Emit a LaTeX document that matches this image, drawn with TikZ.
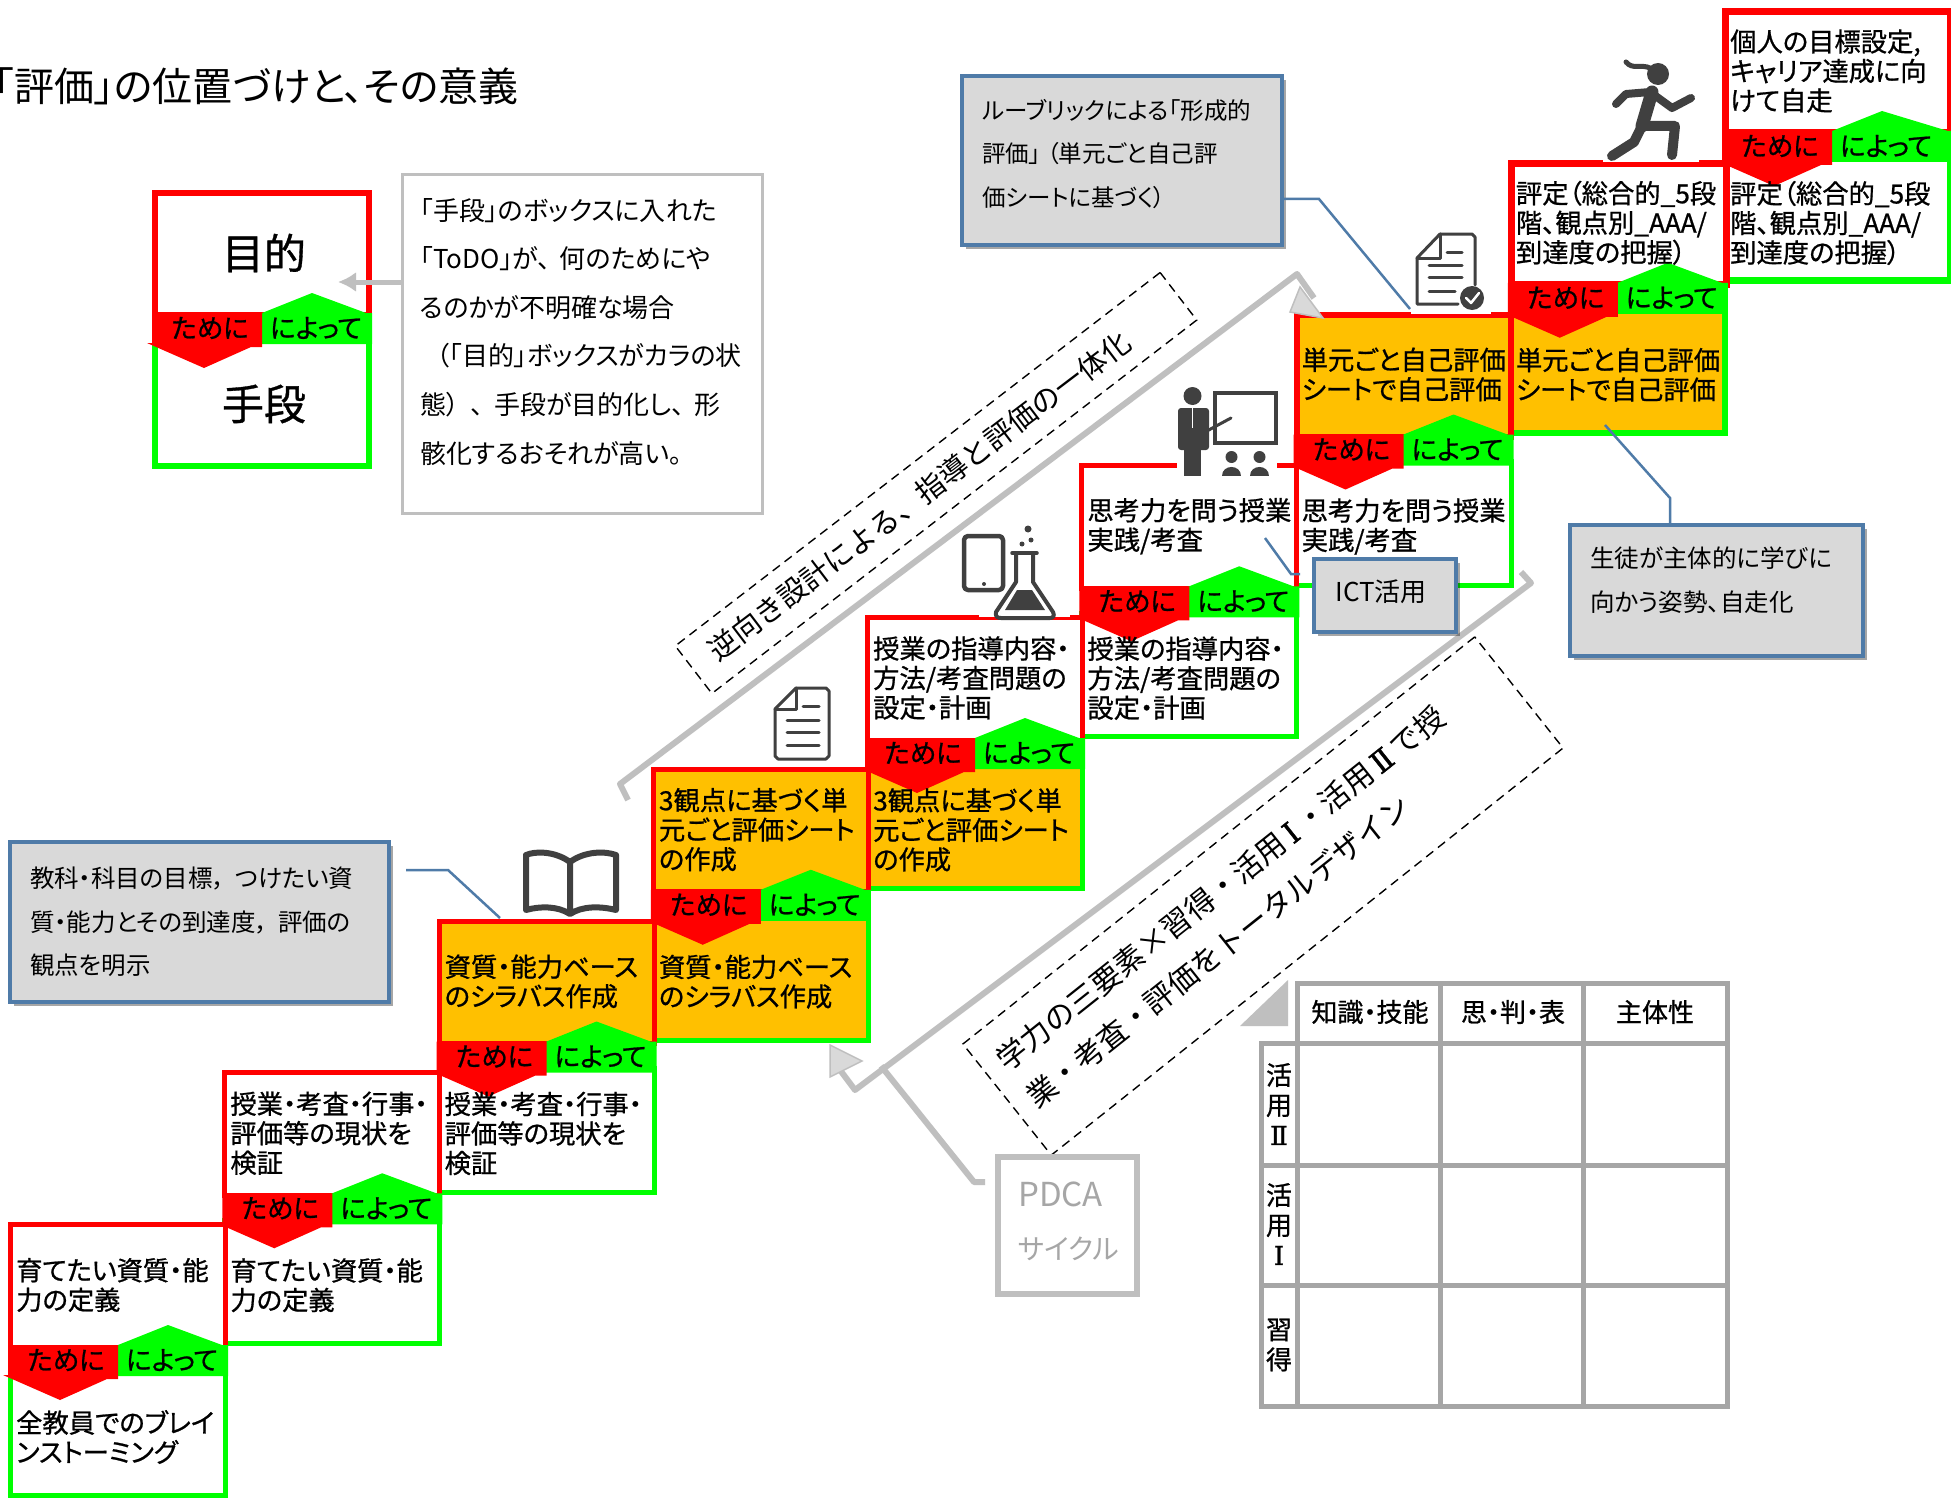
\documentclass[tikz,border=0pt]{standalone}
\usepackage{fontspec}
\usetikzlibrary{shadows,arrows.meta}
\newfontfamily\jp[RawFeature=+palt]{Noto Sans CJK JP}
\newfontfamily\jpn{Noto Sans CJK JP}
\newfontfamily\jpm[RawFeature=+palt,FakeBold=0.8]{Noto Sans CJK JP}
\newfontfamily\romf[FakeBold=1.2]{DejaVu Serif}
\definecolor{cRed}{HTML}{FF0000}
\definecolor{cGreen}{HTML}{00FF00}
\definecolor{cOrange}{HTML}{FFC000}
\definecolor{cBlue}{HTML}{4F7BA8}
\definecolor{cGray}{HTML}{BFBFBF}
\definecolor{cTbl}{HTML}{A6A6A6}
\definecolor{cIcon}{HTML}{404040}
\definecolor{cGrayFill}{HTML}{D9D9D9}
\tikzset{
  x=1pt,y=-1pt,
  celltext/.style={anchor=west,align=left,inner sep=0pt,font=\jpm\fontsize{26.3}{29.5}\selectfont},
  bandtext/.style={inner sep=0pt,font=\jpm\fontsize{26.5}{26}\selectfont},
  bluebox/.style={draw=cBlue,fill=cGrayFill,line width=4pt,inner sep=0pt,align=left,
    drop shadow={shadow xshift=4pt,shadow yshift=-4pt,opacity=.35,fill=black},
    font=\jp\fontsize{24.5}{43.5}\selectfont},
  leader/.style={draw=cBlue,line width=2.5pt},
  grayline/.style={draw=cGray,line width=6pt},
  dashbox/.style={draw=black,dashed,line width=1.4pt,dash pattern=on 9pt off 6pt,inner sep=0pt},
  rottext/.style={align=left,inner sep=0pt},
  iconline/.style={draw=cIcon,line width=3.5pt,line join=round,line cap=round},
  tlabel/.style={inner sep=0pt,font=\jpm\fontsize{26}{30}\selectfont,align=center},
}
\begin{document}
\begin{tikzpicture}
\useasboundingbox (0,0) rectangle (1951,1498);
\fill[white] (0,0) rectangle (1951,1498);

% title
\node[anchor=west,inner sep=0pt,font=\jp\fontsize{40}{40}\selectfont] (title) at (-6,86) {「評価」の位置づけと、その意義};

% dashed rotated labels (under other items)
\node[dashbox,rotate=37.6,minimum width=612pt,minimum height=60pt] (dashA) at (936,483) {};
\node[rottext,rotate=37.2,font=\jpn\fontsize{29}{48}\selectfont] (dashAt) at (919,496) {逆向き設計による、指導と評価の一体化};
\node[dashbox,rotate=38.5,minimum width=654pt,minimum height=142pt] (dashB) at (1263,896) {};
\node[rottext,rotate=38.5,font=\jpn\fontsize{30}{48}\selectfont,text width=610pt] (dashBt) at (1254,892) {学力の三要素×習得・活用\hspace{5pt}{\romf Ⅰ}\hspace{5pt}・活用\hspace{5pt}{\romf Ⅱ}\hspace{5pt}で授\\業・考査・評価をトータルデザイン};

% big gray bent arrows
\coordinate (upA) at (628,800);
\coordinate (upB) at (620,784);
\coordinate (upC) at (1297,274);
\coordinate (upD) at (1314,298);
\draw[grayline,line join=round] (upA) -- (upB) -- (upC) -- (upD);
\coordinate (loA) at (1521,572);
\coordinate (loB) at (1531,583);
\coordinate (loC) at (855,1090);
\coordinate (loD) at (840,1070);
\draw[grayline,line join=round] (loA) -- (loB) -- (loC) -- (loD);

% step cells: green frames
\foreach \k/\fa/\w/\cw in {0/white/5/220,1/white/5/220,2/white/5/220,3/cOrange/5/220,4/cOrange/5/220,5/white/5/220,6/white/5/220,7/cOrange/6/220,8/white/7/232}{
  \pgfmathsetmacro\L{8+214.25*\k}\pgfmathsetmacro\T{1222-151.75*\k}
  \begin{scope}[shift={(\L,\T)}]
    \draw[draw=cGreen,line width=\w pt,fill=\fa] ({\w/2},150) rectangle ({\cw-\w/2},{276-\w/2});
  \end{scope}
}
% step cells: red frames
\foreach \k/\fa/\w/\cw in {0/white/5/220,1/white/5/220,2/cOrange/5/220,3/cOrange/5/220,4/white/5/220,5/white/5/220,6/cOrange/6/220,7/white/7/222,8/white/7/232}{
  \pgfmathsetmacro\L{8+214.25*\k}\pgfmathsetmacro\T{1222-151.75*\k}
  \begin{scope}[shift={(\L,\T)}]
    \draw[draw=cRed,line width=\w pt,fill=\fa] ({\w/2},{\w/2}) rectangle ({\cw-\w/2},125);
  \end{scope}
}
% purpose / means legend frames
\begin{scope}[shift={(152,190)}]
  \draw[draw=cGreen,line width=6pt,fill=white] (3,150) rectangle (217,276);
  \draw[draw=cRed,line width=6pt,fill=white] (3,3) rectangle (217,125);
\end{scope}
% bands
\foreach \L/\T/\n/\cw in {8/1222/0/220,222.25/1070.25/1/220,436.5/918.5/2/220,650.75/766.75/3/220,865/615/4/220,1079.25/463.25/5/220,1293.5/311.5/6/220,1507.75/159.75/7/220,1722/8/8/232,152/190/L/220}{
  \begin{scope}[shift={(\L,\T)}]
    \fill[cGreen] (105,125) -- (160,103) -- ({\cw-6},123) -- (\cw,123) -- (\cw,154) -- (105,154) -- cycle;
    \fill[cRed] (0,123) -- (110,123) -- (110,157) -- (99,157) -- (52,178) -- (-5,153) -- (0,153) -- cycle;
    \node[bandtext] (tame\n) at (58,138) {ために};
    \node[bandtext] (yotte\n) at (164,138) {によって};
  \end{scope}
}
% grey arrowheads lie over the frames
\draw[fill=cGrayFill,draw=cGray,line width=1.5pt] (1300,287) -- (1323,318) -- (1290,312) -- cycle;
\draw[fill=cGrayFill,draw=cGray,line width=1.5pt] (830,1045) -- (862,1061) -- (830,1077) -- cycle;
% step texts
\foreach \k/\ta/\tb in {
 0/{育てたい資質・能\\力の定義}/{全教員でのブレイ\\ンストーミング},
 1/{授業・考査・行事・\\評価等の現状を\\検証}/{育てたい資質・能\\力の定義},
 2/{資質・能力ベース\\のシラバス作成}/{授業・考査・行事・\\評価等の現状を\\検証},
 3/{3観点に基づく単\\元ごと評価シート\\の作成}/{資質・能力ベース\\のシラバス作成},
 4/{授業の指導内容・\\方法/考査問題の\\設定・計画}/{3観点に基づく単\\元ごと評価シート\\の作成},
 5/{思考力を問う授業\\実践/考査}/{授業の指導内容・\\方法/考査問題の\\設定・計画},
 6/{単元ごと自己評価\\シートで自己評価}/{思考力を問う授業\\実践/考査},
 7/{評定（総合的\_5段\\階、観点別\_AAA/\\到達度の把握）}/{単元ごと自己評価\\シートで自己評価},
 8/{個人の目標設定,\\キャリア達成に向\\けて自走}/{評定（総合的\_5段\\階、観点別\_AAA/\\到達度の把握）}}{
  \pgfmathsetmacro\L{8+214.25*\k}\pgfmathsetmacro\T{1222-151.75*\k}
  \node[celltext] (top\k) at ({\L+8},{\T+63}) {\ta};
  \node[celltext] (bot\k) at ({\L+8},{\T+215}) {\tb};
}
% legend text
\node[inner sep=0pt,font=\jpm\fontsize{42}{42}\selectfont] (mokuteki) at (264,253) {目的};
\node[inner sep=0pt,font=\jpm\fontsize{42}{42}\selectfont] (shudan) at (264,404) {手段};

% note box
\node[draw=cGray,line width=3pt,fill=white,minimum width=360pt,minimum height=338pt,inner sep=0pt] (note) at (582,344) {};
\node[anchor=north west,inner sep=0pt,align=left,font=\jp\fontsize{26}{48.6}\selectfont] (notetext) at (420,198) {「手段」のボックスに入れた\\「ToDO」が、\hspace{9pt}何のためにや\\るのかが不明確な場合\\\hspace*{16pt}（「目的」ボックスがカラの状\\態）\hspace{12pt}、\hspace{10pt}手段が目的化し、\hspace{10pt}形\\骸化するおそれが高い。};
\coordinate (noteArrow) at (338,282);
\draw[grayline,line width=5pt,-{Latex[length=18pt,width=20pt]}] (note.west|-noteArrow) -- (noteArrow);

% blue boxes
\node[bluebox,minimum width=320pt,minimum height=169pt] (boxA) at (1122,160.5) {};
\node[anchor=north west,inner sep=0pt,align=left,font=\jp\fontsize{23.5}{43.5}\selectfont] (boxAt) at (982,99) {ルーブリックによる「形成的\\評価」\hspace{6pt}（単元ごと自己評\\価シートに基づく）};
\coordinate (aJ) at (1319,199);
\coordinate (aE) at (1410,309);
\draw[leader] (boxA.east|-aJ) -- (aJ) -- (aE);

\node[bluebox,minimum width=293pt,minimum height=131pt] (boxB) at (1716.5,590.5) {};
\node[anchor=north west,inner sep=0pt,align=left,font=\jp\fontsize{24.5}{43.5}\selectfont] (boxBt) at (1590,547) {生徒が主体的に学びに\\向かう姿勢、自走化};
\coordinate (bJ) at (1670,498);
\coordinate (bE) at (1605,425);
\draw[leader] (boxB.north-|bJ) -- (bJ) -- (bE);

\node[bluebox,minimum width=379pt,minimum height=160pt,text width=339pt] (boxC) at (199.5,922) {教科・科目の目標，\hspace{10pt}つけたい資\\質・能力とその到達度，\hspace{10pt}評価の\\観点を明示};
\coordinate (cS) at (406,870);
\coordinate (cJ) at (448,870);
\coordinate (cE) at (500,918);
\draw[leader] (cS) -- (cJ) -- (cE);

\coordinate (iS) at (1300,574);
\coordinate (iJ) at (1291,574);
\coordinate (iE) at (1265,538);
\draw[leader] (iS) -- (iJ) -- (iE);
\node[bluebox,minimum width=142pt,minimum height=73pt,align=center,font=\jp\fontsize{26}{30}\selectfont] (boxI) at (1385,595.5) {};
\node[inner sep=0pt,font=\jp\fontsize{26}{30}\selectfont] (boxIt) at (1381,592) {ICT活用};

% PDCA
\node[draw=cGray,line width=6pt,fill=white,minimum width=139pt,minimum height=137pt,inner sep=0pt] (pdca) at (1067.5,1225.5) {};
\node[anchor=west,inner sep=0pt,align=left,text=cTbl,font=\jp\fontsize{33}{53}\selectfont] (pdcatext) at (1018,1221) {PDCA\\{\fontsize{28}{53}\selectfont サイクル}};
\coordinate (pJ) at (974,1182);
\coordinate (pE) at (881,1066);
\coordinate (pS) at (985,1182);
\draw[grayline,line join=round] (pS) -- (pJ) -- (pE);

% table
\fill[cGray] (1288,980) -- (1288,1026) -- (1240,1026) -- cycle;
\draw[draw=cTbl,line width=5pt,fill=white] (1297,983) rectangle (1727,1406);
\draw[draw=cTbl,line width=5pt,fill=white] (1261,1043) rectangle (1297,1406);
\foreach \yy in {1043,1165,1285}{\draw[draw=cTbl,line width=5pt] (1261,\yy) -- (1727,\yy);}
\foreach \xx in {1440,1583}{\draw[draw=cTbl,line width=5pt] (\xx,983) -- (\xx,1406);}
\node[tlabel] (h1) at (1370,1012) {知識・技能};
\node[tlabel] (h2) at (1513,1012) {思・判・表};
\node[tlabel] (h3) at (1655,1012) {主体性};
\node[tlabel] (s1) at (1279,1104) {活\\用\\{\romf Ⅱ}};
\node[tlabel] (s2) at (1279,1224) {活\\用\\{\romf Ⅰ}};
\node[tlabel] (s3) at (1279,1345) {習\\得};

% icon: book
\draw[draw=cIcon,line width=6pt,line join=round,fill=white] (570,862) .. controls (555,851) and (535,851) .. (526,855) -- (526,910) .. controls (540,906) and (558,906) .. (570,914) .. controls (582,906) and (600,906) .. (616,910) -- (616,855) .. controls (605,851) and (585,851) .. (570,862) -- (570,914);

% icon: document
\draw[iconline,line width=3pt] (796,688) -- (826,688) -- (829,691) -- (829,756) -- (826,759) -- (778,759) -- (775,756) -- (775,709) -- cycle;
\draw[iconline,line width=3pt] (775,709) -- (796,709) -- (796,688);
\foreach \yy in {720,732,745}{\draw[iconline,line width=3pt] (787,\yy) -- (819,\yy);}
\draw[iconline,line width=3pt] (803,706) -- (819,706);

% icon: tablet and flask
\fill[white] (979,612) rectangle (1070,617);
\draw[iconline,line width=4.5pt,rounded corners=4pt] (964,536) rectangle (1003,590);
\fill[cIcon] (984,584) circle (2pt);
\draw[iconline,fill=white,line width=4pt] (1016,555) -- (1016,582) -- (996,612) .. controls (995,617) and (998,618) .. (1001,618) -- (1050,618) .. controls (1053,618) and (1055,616) .. (1053,612) -- (1033,582) -- (1033,555);
\draw[iconline] (1012,553) -- (1037,553);
\fill[cIcon] (1005,610) -- (1017,590) -- (1032,590) -- (1045,610) -- cycle;
\fill[cIcon] (1028,529) circle (3.5pt) (1031,540) circle (2.5pt) (1022,544) circle (2.5pt);

% icon: teacher
\fill[white] (1177,460) rectangle (1277,470);
\draw[draw=cIcon,line width=3.5pt] (1215,393) rectangle (1276,443);
\fill[cIcon] (1192.5,396) circle (9pt);
\fill[cIcon,rounded corners=3pt] (1178,408) rectangle (1209,450);
\fill[cIcon] (1184,440) rectangle (1201,476);
\draw[iconline,line width=3pt] (1205,432) -- (1231,418);
\draw[draw=white,line width=1pt] (1192.5,408) -- (1192.5,428);
\fill[cIcon] (1231.5,457) circle (6pt) (1259.5,457) circle (6pt);
\fill[cIcon] (1222,476) .. controls (1222,464) and (1241,464) .. (1241,476) -- cycle;
\fill[cIcon] (1250,476) .. controls (1250,464) and (1269,464) .. (1269,476) -- cycle;

% icon: checked document
\fill[white] (1411,308) rectangle (1491,314);
\draw[iconline,line width=3pt] (1440,234) -- (1472,234) -- (1475,237) -- (1475,285);
\draw[iconline,line width=3pt] (1440,234) -- (1417,258) -- (1417,304) -- (1458,304);
\draw[iconline,line width=3pt] (1417,258) -- (1440,258) -- (1440,234);
\draw[iconline,line width=3pt] (1447,252) -- (1462,252);
\foreach \yy in {265,277}{\draw[iconline,line width=3pt] (1429,\yy) -- (1462,\yy);}
\draw[iconline,line width=3pt] (1429,291) -- (1455,291);
\fill[cIcon] (1472,298) circle (12pt);
\draw[white,line width=2.5pt,line cap=round,line join=round] (1466,298) -- (1471,303) -- (1479,293);

% icon: runner
\fill[white] (1603,155) rectangle (1699,162);
\fill[cIcon] (1658,74) circle (11pt);
\draw[iconline,line width=5pt] (1626,62) .. controls (1632,70) and (1642,64) .. (1650,68);
\draw[iconline,line width=13pt] (1652,92) -- (1642,126);
\draw[iconline,line width=8pt] (1650,92) -- (1626,94) -- (1616,104);
\draw[iconline,line width=8pt] (1650,92) -- (1672,108) -- (1691,98);
\draw[iconline,line width=10pt] (1642,126) -- (1675,126) -- (1672,155);
\draw[iconline,line width=10pt] (1642,126) -- (1634,142) -- (1612,156);
\end{tikzpicture}
\end{document}
